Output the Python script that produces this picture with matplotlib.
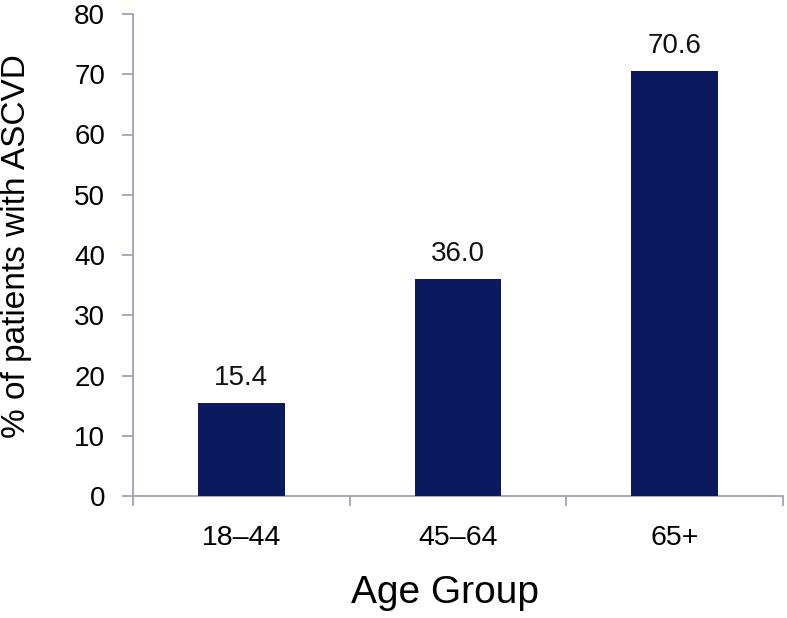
import matplotlib
matplotlib.use("Agg")
import matplotlib.pyplot as plt
import numpy as np

categories = ["18–44", "45–64", "65+"]
values = [15.4, 36.0, 70.6]
value_labels = ["15.4", "36.0", "70.6"]
yticks = [0, 10, 20, 30, 40, 50, 60, 70, 80]

plt.rcParams['font.family'] = ['Liberation Sans', 'DejaVu Sans']

fig = plt.figure(figsize=(7.87, 6.18), dpi=100)
ax = fig.add_axes([133/787, 1-496/618, (783-133)/787, (496-14)/618])

x = np.arange(len(categories))
bar_color = "#0B1A5E"
ax.bar(x, values, width=0.4, color=bar_color, zorder=3)
for xi, v, lab in zip(x, values, value_labels):
    ax.text(xi, v + 2.0, lab, ha="center", va="bottom", fontsize=20, color="#111111")

ax.set_xlim(-0.5, len(categories) - 0.5)
ax.set_ylim(0, 80)
ax.set_yticks(yticks)
ax.set_yticklabels([str(t) for t in yticks], fontsize=20)

ax.set_xticks(x)
ax.set_xticklabels(categories, fontsize=20.5)
ax.tick_params(axis="x", length=0, pad=21)
ax.set_xticks(np.arange(-0.5, len(categories)), minor=True)
ax.tick_params(axis="x", which="minor", length=7, color="#9A9AB0", width=1.2, direction="out")
ax.tick_params(axis="y", length=8, color="#9A9AB0", width=1.2, pad=12)

spine_color = "#9A9AB0"
for s in ["top", "right"]:
    ax.spines[s].set_visible(False)
for s in ["left", "bottom"]:
    ax.spines[s].set_color(spine_color)
    ax.spines[s].set_linewidth(1.2)

ax.set_ylabel("% of patients with ASCVD", fontsize=24)
ax.yaxis.set_label_coords(-0.155, 0.519)
ax.set_xlabel("Age Group", fontsize=28)
ax.xaxis.set_label_coords(0.48, -0.164)

fig.savefig("out.png", dpi=100)
